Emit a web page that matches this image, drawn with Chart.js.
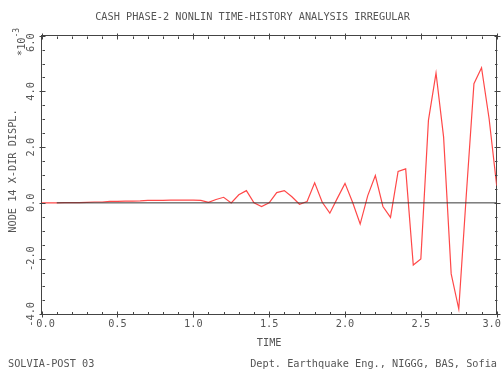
<!DOCTYPE html>
<html>
<head>
<meta charset="utf-8">
<script src="https://cdn.jsdelivr.net/npm/chart.js@4/dist/chart.umd.min.js"></script>
<style>
html,body{margin:0;padding:0;background:#fff;}
#wrap{position:relative;width:501px;height:370px;overflow:hidden;background:#fff;}
#c{position:absolute;left:0;top:0;}
.t{position:absolute;font-family:"DejaVu Sans Mono",monospace;font-size:10.25px;line-height:12px;color:#555;white-space:pre;}
</style>
</head>
<body>
<div id="wrap">
  <canvas id="c" width="501" height="370"></canvas>
  <div class="t" id="title" style="left:2px;width:501px;text-align:center;top:10px"></div>
  <div class="t" id="footL" style="left:8px;top:357px"></div>
  <div class="t" id="footR" style="right:4px;top:357px"></div>
</div>
<script>
// ---------- data ----------
const chartTitle = 'CASH PHASE-2 NONLIN TIME-HISTORY ANALYSIS IRREGULAR';
const footerLeft = 'SOLVIA-POST 03';
const footerRight = 'Dept. Earthquake Eng., NIGGG, BAS, Sofia';
const xAxisTitle = 'TIME';
const yAxisTitle = 'NODE 14 X-DIR DISPL.';
const yMultiplier = '*10';
const yMultiplierExp = '-3';

const times = [
  0.00, 0.05, 0.10, 0.15, 0.20, 0.25, 0.30, 0.35, 0.40, 0.45,
  0.50, 0.55, 0.60, 0.65, 0.70, 0.75, 0.80, 0.85, 0.90, 0.95,
  1.00, 1.05, 1.10, 1.15, 1.20, 1.25, 1.30, 1.35, 1.40, 1.45,
  1.50, 1.55, 1.60, 1.65, 1.70, 1.75, 1.80, 1.85, 1.90, 1.95,
  2.00, 2.05, 2.10, 2.15, 2.20, 2.25, 2.30, 2.35, 2.40, 2.45,
  2.50, 2.55, 2.60, 2.65, 2.70, 2.75, 2.80, 2.85, 2.90, 2.95,
  3.00
];
// displacement in units of 1e-3
const displ = [
  0.00, 0.00, 0.00, 0.005, 0.01, 0.01, 0.02, 0.03, 0.03, 0.05,
  0.05, 0.06, 0.06, 0.07, 0.09, 0.09, 0.09, 0.10, 0.10, 0.10,
  0.10, 0.09, 0.02, 0.12, 0.20, 0.00, 0.29, 0.44, 0.00, -0.13,
  0.00, 0.37, 0.44, 0.22, -0.05, 0.05, 0.72, 0.02, -0.37, 0.17,
  0.70, 0.02, -0.76, 0.26, 0.98, -0.13, -0.52, 1.13, 1.22, -2.23,
  -2.01, 2.96, 4.66, 2.36, -2.55, -3.81, 0.32, 4.28, 4.85, 3.02,
  0.62
];
const zeroLineX = [0.10, 3.00];
const zeroLineY = [0, 0];

const xTickLabels = ['0.0', '0.5', '1.0', '1.5', '2.0', '2.5', '3.0'];
const yTickLabels = ['-4.0', '-2.0', '0.0', '2.0', '4.0', '6.0'];
const xMinorPerMajor = 5;
const yMinorPerMajor = 4;

// ---------- style ----------
const FONT = '"DejaVu Sans Mono", monospace';
const TEXT = '#555';
const AXIS = '#444';
const RED = '#ff4848';

document.getElementById('title').textContent = chartTitle;
document.getElementById('footL').textContent = footerLeft;
document.getElementById('footR').textContent = footerRight;

const xVals = xTickLabels.map(parseFloat);
const yVals = yTickLabels.map(parseFloat);

const frameTicks = {
  id: 'frameTicks',
  afterDraw(chart) {
    const ctx = chart.ctx;
    const a = chart.chartArea;
    const xs = chart.scales.x, ys = chart.scales.y;
    const al = v => Math.round(v) + 0.5;
    ctx.save();
    ctx.strokeStyle = AXIS;
    ctx.lineWidth = 1;
    ctx.beginPath();
    const bY = al(a.bottom), tY = al(a.top), lX = al(a.left), rX = al(a.right);
    const xs0 = (xVals[1] - xVals[0]) / xMinorPerMajor;
    for (let i = 0; i < xVals.length - 1; i++) {
      for (let k = 1; k < xMinorPerMajor; k++) {
        const px = al(xs.getPixelForValue(xVals[i] + k * xs0));
        ctx.moveTo(px, bY); ctx.lineTo(px, bY - 2.5);
        ctx.moveTo(px, tY); ctx.lineTo(px, tY + 2.5);
      }
    }
    xVals.forEach(v => {
      const px = al(xs.getPixelForValue(v));
      ctx.moveTo(px, bY - 3); ctx.lineTo(px, bY + 3);
      ctx.moveTo(px, tY - 3); ctx.lineTo(px, tY + 3);
    });
    const ys0 = (yVals[1] - yVals[0]) / yMinorPerMajor;
    for (let i = 0; i < yVals.length - 1; i++) {
      for (let k = 1; k < yMinorPerMajor; k++) {
        const py = al(ys.getPixelForValue(yVals[i] + k * ys0));
        ctx.moveTo(lX, py); ctx.lineTo(lX + 2.5, py);
        ctx.moveTo(rX, py); ctx.lineTo(rX - 2.5, py);
      }
    }
    yVals.forEach(v => {
      const py = al(ys.getPixelForValue(v));
      ctx.moveTo(lX - 3, py); ctx.lineTo(lX + 3, py);
      ctx.moveTo(rX - 3, py); ctx.lineTo(rX + 3, py);
    });
    ctx.stroke();

    // tick labels
    ctx.fillStyle = TEXT;
    ctx.font = '10.25px ' + FONT;
    ctx.textAlign = 'center';
    ctx.textBaseline = 'middle';
    xTickLabels.forEach((lab, i) => {
      let px = xs.getPixelForValue(xVals[i]);
      if (i === 0) px += 4;
      if (i === xTickLabels.length - 1) px -= 5;
      ctx.fillText(lab, px, a.bottom + 10);
    });
    yTickLabels.forEach((lab, i) => {
      let py = ys.getPixelForValue(yVals[i]);
      if (i === yTickLabels.length - 1) py += 7;
      ctx.save();
      ctx.translate(31.7, py);
      ctx.rotate(-Math.PI / 2);
      ctx.fillText(lab, 0, 0);
      ctx.restore();
    });
    // y axis title
    ctx.save();
    ctx.translate(13.5, 171);
    ctx.rotate(-Math.PI / 2);
    ctx.fillText(yAxisTitle, 0, 0);
    ctx.restore();
    // multiplier *10^-3
    ctx.save();
    ctx.translate(22.7, 56);
    ctx.rotate(-Math.PI / 2);
    ctx.textAlign = 'left';
    ctx.fillText(yMultiplier, 0, 0);
    const w = ctx.measureText(yMultiplier).width;
    ctx.font = '8px ' + FONT;
    ctx.fillText(yMultiplierExp, w, -5.5);
    ctx.restore();
    ctx.restore();
  }
};

const noGrid = { display: true, drawOnChartArea: false, drawTicks: false };
const border = { display: true, color: AXIS, width: 1 };

new Chart(document.getElementById('c'), {
  type: 'line',
  data: {
    datasets: [
      {
        label: 'zero',
        data: zeroLineX.map((x, i) => ({ x: x, y: zeroLineY[i] })),
        borderColor: '#383838',
        borderWidth: 1,
        pointRadius: 0,
        order: 0
      },
      {
        label: yAxisTitle,
        data: times.map((t, i) => ({ x: t, y: displ[i] })),
        borderColor: RED,
        borderWidth: 1.2,
        pointRadius: 0,
        tension: 0,
        order: 1
      }
    ]
  },
  options: {
    responsive: false,
    animation: false,
    devicePixelRatio: 1,
    layout: { padding: 0 },
    plugins: { legend: { display: false }, tooltip: { enabled: false }, title: { display: false } },
    scales: {
      x: {
        type: 'linear', position: 'bottom', min: 0, max: 3,
        ticks: { display: false }, grid: noGrid, border: border,
        title: { display: true, text: xAxisTitle, color: TEXT, font: { family: FONT, size: 10.25 }, padding: { top: 0, bottom: 20.7 } },
        afterFit: s => { s.height = 370 - 314.3; }
      },
      x2: {
        type: 'linear', position: 'top', min: 0, max: 3,
        ticks: { display: false }, grid: noGrid, border: border,
        afterFit: s => { s.height = 35.7; }
      },
      y: {
        type: 'linear', position: 'left', min: -4, max: 6,
        ticks: { display: false }, grid: noGrid, border: border,
        afterFit: s => { s.width = 41.6; }
      },
      y2: {
        type: 'linear', position: 'right', min: -4, max: 6,
        ticks: { display: false }, grid: noGrid, border: border,
        afterFit: s => { s.width = 501 - 496.7; }
      }
    }
  },
  plugins: [frameTicks]
});
</script>
</body>
</html>
